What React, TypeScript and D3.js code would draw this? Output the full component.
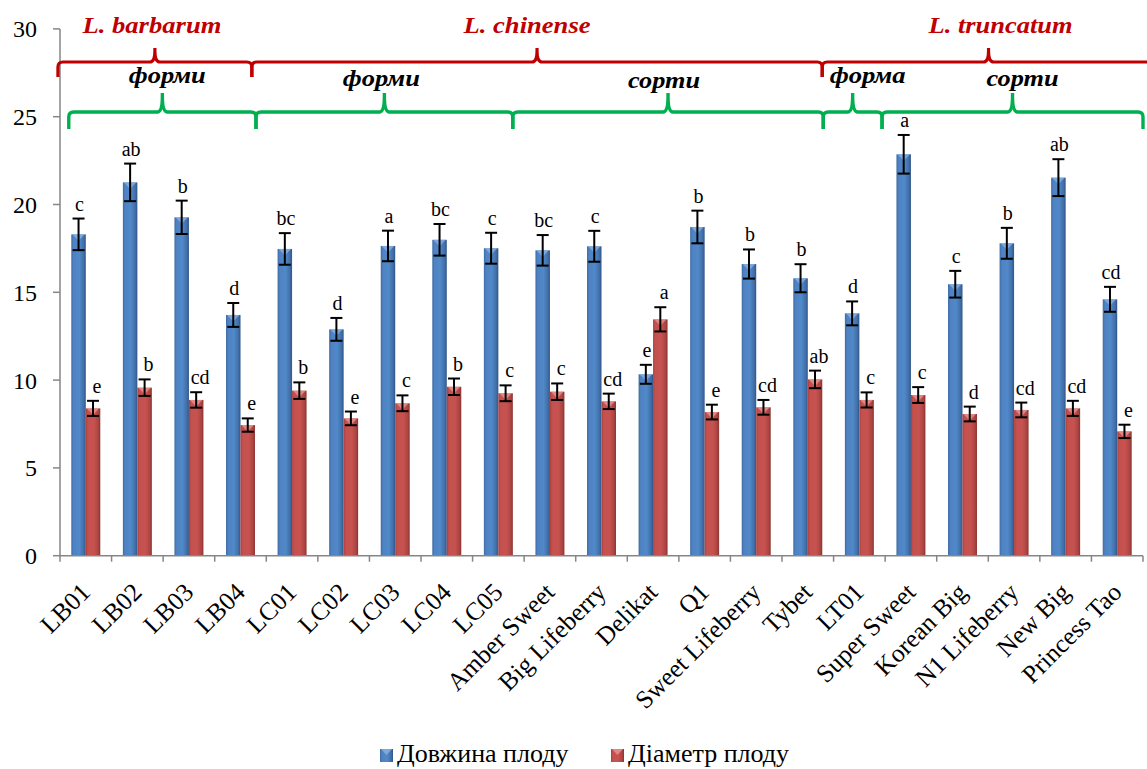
import React from "react";
import * as d3 from "d3";

// Fruit length / diameter (mm) of Lycium accessions, mean ± error
const categories = [
  "LB01", "LB02", "LB03", "LB04", "LC01", "LC02", "LC03", "LC04", "LC05",
  "Amber Sweet", "Big Lifeberry", "Delikat", "Q1", "Sweet Lifeberry", "Tybet",
  "LT01", "Super Sweet", "Korean Big", "N1 Lifeberry", "New Big", "Princess Tao",
];
const lengthMean = [
  18.3, 21.26, 19.27, 13.71, 17.47, 12.89, 17.64, 17.99, 17.51, 17.39, 17.62,
  10.33, 18.72, 16.61, 15.8, 13.8, 22.86, 15.46, 17.79, 21.53, 14.6,
];
const lengthErr = [
  0.9, 1.07, 0.95, 0.68, 0.9, 0.65, 0.87, 0.9, 0.88, 0.87, 0.88, 0.54, 0.93,
  0.83, 0.8, 0.68, 1.1, 0.76, 0.88, 1.05, 0.71,
];
const lengthLetters = [
  "c", "ab", "b", "d", "bc", "d", "a", "bc", "c", "bc", "c", "e", "b", "b", "b",
  "d", "a", "c", "b", "ab", "cd",
];
const diameterMean = [
  8.39, 9.57, 8.87, 7.44, 9.4, 7.82, 8.68, 9.62, 9.25, 9.34, 8.79, 13.46, 8.18,
  8.45, 10.04, 8.87, 9.15, 8.07, 8.3, 8.39, 7.08,
];
const diameterErr = [
  0.43, 0.47, 0.44, 0.38, 0.47, 0.39, 0.45, 0.47, 0.45, 0.47, 0.44, 0.69, 0.42,
  0.42, 0.5, 0.43, 0.45, 0.42, 0.42, 0.43, 0.38,
];
const diameterLetters = [
  "e", "b", "cd", "e", "b", "e", "c", "b", "c", "c", "cd", "a", "e", "cd", "ab",
  "c", "c", "d", "cd", "cd", "e",
];
const yTicks = [0, 5, 10, 15, 20, 25, 30];
const seriesNames = ["Довжина плоду", "Діаметр плоду"];

// Group annotations: spans in category units (0 = left edge of first category)
const speciesGroups = [
  { label: "L. barbarum", from: -0.04, to: 3.72, width: 139, dx: -3 },
  { label: "L. chinense", from: 3.72, to: 14.78, width: 127, dx: -10 },
  { label: "L. truncatum", from: 14.78, to: 21.23, width: 144, dx: 12 },
];
const typeGroups = [
  { label: "форми", from: 0.17, to: 3.8, dy: 0, width: 77, dx: 5 },
  { label: "форми", from: 3.8, to: 8.78, dy: 3, width: 77, dx: -3 },
  { label: "сорти", from: 8.78, to: 14.8, dy: 5, width: 72, dx: -4 },
  { label: "форма", from: 14.8, to: 15.94, dy: 0, width: 76, dx: 15 },
  { label: "сорти", from: 15.94, to: 21.0, dy: 3, width: 72, dx: 10 },
];

const W = 1147;
const H = 769;
const plotLeft = 60;
const plotRight = 1143;
const plotTop = 28.9;
const plotBottom = 555.7;
const SERIF = "'Liberation Serif', 'Times New Roman', serif";

function bracePath(x0: number, x1: number, yLine: number, yEnd: number, yPeak: number) {
  const xm = (x0 + x1) / 2;
  const r = 5;
  return [
    `M${x0},${yEnd}`,
    `L${x0},${yLine + r}`,
    `Q${x0},${yLine} ${x0 + r},${yLine}`,
    `L${xm - r},${yLine}`,
    `Q${xm},${yLine} ${xm},${yPeak + 3}`,
    `L${xm},${yPeak}`,
    `M${xm},${yPeak + 3}`,
    `Q${xm},${yLine} ${xm + r},${yLine}`,
    `L${x1 - r},${yLine}`,
    `Q${x1},${yLine} ${x1},${yLine + r}`,
    `L${x1},${yEnd}`,
  ].join(" ");
}

export default function App() {
  const x = d3.scaleBand<string>().domain(categories).range([plotLeft, plotRight]).padding(0);
  const inner = d3
    .scaleBand<string>()
    .domain(["len", "dia"])
    .range([0, x.bandwidth()])
    .paddingInner(0)
    .paddingOuter(0.78);
  const y = d3.scaleLinear().domain([0, 30]).range([plotBottom, plotTop]);
  const unit = d3.scaleLinear().domain([0, categories.length]).range([plotLeft, plotRight]);
  const bw = inner.bandwidth();

  const series = [
    { key: "len", mean: lengthMean, err: lengthErr, letters: lengthLetters, grad: "gBlue", top: "#8db4e6", labelDx: 1 },
    { key: "dia", mean: diameterMean, err: diameterErr, letters: diameterLetters, grad: "gRed", top: "#e99a98", labelDx: 4 },
  ];

  return (
    <div style={{ position: "absolute", left: 0, top: 0 }}>
      <svg width={W} height={H} viewBox={`0 0 ${W} ${H}`} style={{ display: "block", background: "#fff" }}>
        <defs>
          <linearGradient id="gBlue" x1="0" x2="1" y1="0" y2="0">
            <stop offset="0" stopColor="#3d6aa3" />
            <stop offset="0.15" stopColor="#4f82c2" />
            <stop offset="0.55" stopColor="#5089c9" />
            <stop offset="0.85" stopColor="#426fa8" />
            <stop offset="1" stopColor="#2f5587" />
          </linearGradient>
          <linearGradient id="gRed" x1="0" x2="1" y1="0" y2="0">
            <stop offset="0" stopColor="#a8403d" />
            <stop offset="0.15" stopColor="#c4514e" />
            <stop offset="0.55" stopColor="#c75350" />
            <stop offset="0.85" stopColor="#ad4542" />
            <stop offset="1" stopColor="#8a3331" />
          </linearGradient>
        </defs>

        {/* bars */}
        {series.map((s) =>
          categories.map((c, i) => {
            const bx = (x(c) as number) + (inner(s.key) as number);
            const by = y(s.mean[i]);
            return (
              <g key={s.key + c}>
                <rect x={bx} y={by} width={bw} height={plotBottom - by} fill={`url(#${s.grad})`} />
                <path
                  d={`M${bx + 1},${by} L${bx + bw - 1},${by} L${bx + bw / 2},${by + bw * 0.45} Z`}
                  fill={s.top}
                  opacity={0.75}
                />
              </g>
            );
          })
        )}

        {/* error bars and significance letters */}
        {series.map((s) =>
          categories.map((c, i) => {
            const cx = (x(c) as number) + (inner(s.key) as number) + bw / 2;
            const hi = y(s.mean[i] + s.err[i]);
            const lo = y(s.mean[i] - s.err[i]);
            const cap = 6;
            return (
              <g key={"e" + s.key + c} stroke="#000" strokeWidth={2}>
                <line x1={cx} x2={cx} y1={hi} y2={lo} />
                <line x1={cx - cap} x2={cx + cap} y1={hi} y2={hi} />
                <line x1={cx - cap} x2={cx + cap} y1={lo} y2={lo} />
                <text
                  x={cx + s.labelDx}
                  y={hi - 8}
                  stroke="none"
                  fill="#000"
                  fontFamily={SERIF}
                  fontSize={20}
                  textAnchor="middle"
                >
                  {s.letters[i]}
                </text>
              </g>
            );
          })
        )}

        {/* y axis */}
        <line x1={plotLeft} x2={plotLeft} y1={plotTop} y2={plotBottom} stroke="#868686" strokeWidth={1.5} />
        {yTicks.map((t) => (
          <g key={"yt" + t}>
            <line x1={plotLeft - 7} x2={plotLeft} y1={y(t)} y2={y(t)} stroke="#868686" strokeWidth={1.5} />
            <text
              x={37}
              y={y(t)}
              dy="0.35em"
              textAnchor="end"
              fontFamily={SERIF}
              fontSize={24}
              fill="#000"
            >
              {t}
            </text>
          </g>
        ))}

        {/* x axis */}
        <line x1={plotLeft} x2={plotRight} y1={plotBottom} y2={plotBottom} stroke="#868686" strokeWidth={1.5} />
        {d3.range(categories.length + 1).map((k) => (
          <line
            key={"xt" + k}
            x1={unit(k)}
            x2={unit(k)}
            y1={plotBottom}
            y2={plotBottom + 6}
            stroke="#868686"
            strokeWidth={1.5}
          />
        ))}
        {categories.map((c) => {
          const cx = (x(c) as number) + x.bandwidth() / 2;
          return (
            <text
              key={"xl" + c}
              transform={`translate(${cx + 6},${plotBottom + 38}) rotate(-45)`}
              textAnchor="end"
              fontFamily={SERIF}
              fontSize={25.5}
              fill="#000"
            >
              {c}
            </text>
          );
        })}

        {/* species braces */}
        {speciesGroups.map((g, i) => {
          const x0 = unit(g.from);
          const x1 = unit(g.to);
          const mid = (x0 + x1) / 2 + g.dx;
          return (
            <g key={"sp" + i}>
              <path d={bracePath(x0, x1, 62, 77, 48)} fill="none" stroke="#c00000" strokeWidth={3.2} />
              <text
                x={mid - g.width / 2}
                y={33}
                textLength={g.width}
                lengthAdjust="spacingAndGlyphs"
                fontFamily={SERIF}
                fontWeight="bold"
                fontStyle="italic"
                fontSize={24}
                fill="#c00000"
              >
                {g.label}
              </text>
            </g>
          );
        })}

        {/* form / cultivar braces */}
        {typeGroups.map((g, i) => {
          const x0 = unit(g.from);
          const x1 = unit(g.to);
          const mid = (x0 + x1) / 2 + g.dx;
          return (
            <g key={"tp" + i}>
              <path d={bracePath(x0, x1, 112, 129, 93)} fill="none" stroke="#00b050" strokeWidth={3.4} />
              <text
                x={mid - g.width / 2}
                y={83 + g.dy}
                textLength={g.width}
                lengthAdjust="spacingAndGlyphs"
                fontFamily={SERIF}
                fontWeight="bold"
                fontStyle="italic"
                fontSize={24}
                fill="#000"
              >
                {g.label}
              </text>
            </g>
          );
        })}

        {/* legend */}
        {seriesNames.map((name, i) => {
          const lx = i === 0 ? 380 : 611;
          return (
            <g key={"lg" + i}>
              <rect x={lx} y={749} width={13} height={13} fill={`url(#${series[i].grad})`} />
              <path d={`M${lx + 1},749 L${lx + 12},749 L${lx + 6.5},755 Z`} fill={series[i].top} opacity={0.75} />
              <text x={lx + 17} y={762} fontFamily={SERIF} fontSize={26} fill="#000">
                {name}
              </text>
            </g>
          );
        })}
      </svg>
    </div>
  );
}
